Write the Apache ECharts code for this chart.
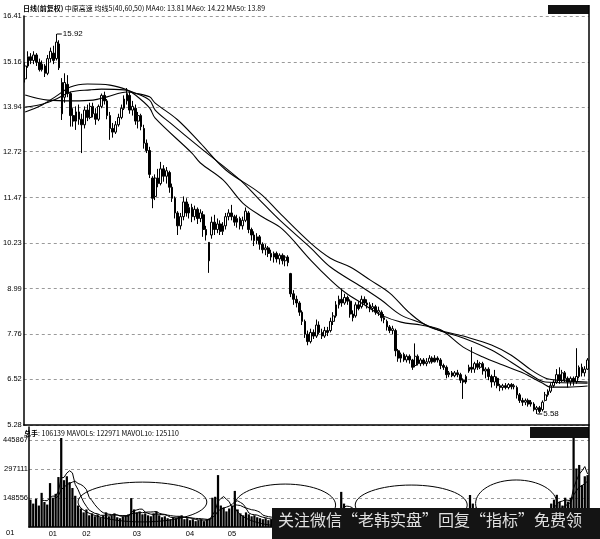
<!DOCTYPE html>
<html><head><meta charset="utf-8">
<script src="https://cdn.jsdelivr.net/npm/echarts@6/dist/echarts.min.js"></script>
<style>html,body{margin:0;padding:0;background:#fff}#c{width:600px;height:539px}</style>
</head><body><div id="c"></div>
<script>
// ---- data ----
const priceTicks = [5.28, 6.52, 7.76, 8.99, 10.23, 11.47, 12.72, 13.94, 15.16, 16.41];
const volTicks = [148556, 297111, 445867];
const monthLabels = {8:'01',20:'02',38:'03',57:'04',72:'05',91:'06',110:'07',128:'08',146:'09',163:'10',181:'11',197:'12'};

// [open, close, low, high]
const ohlc = [
[14.70,15.05,14.60,15.15],[15.05,15.30,15.00,15.45],[15.30,15.20,15.10,15.40],[15.20,15.35,15.10,15.45],[15.35,15.15,15.05,15.40],
[15.15,14.95,14.90,15.25],[14.95,15.10,14.90,15.20],[15.05,14.85,14.75,15.10],[14.85,15.25,14.80,15.35],[15.25,15.45,15.15,15.55],
[15.40,15.20,15.10,15.60],[15.25,15.70,15.20,15.92],[15.65,15.00,14.94,15.75],[14.60,13.75,13.58,14.72],[14.20,14.60,14.05,14.85],
[14.55,14.30,14.20,14.80],[14.30,13.70,13.40,14.35],[13.70,13.55,13.40,13.90],[13.55,13.80,13.31,13.95],[13.80,13.60,13.45,14.00],
[13.60,13.45,12.68,13.75],[13.45,13.85,13.35,13.95],[13.85,13.65,13.55,14.00],[13.65,13.95,13.60,14.05],[13.95,13.75,13.65,14.05],
[13.75,13.60,13.45,13.90],[13.60,13.95,13.55,14.00],[13.95,14.25,13.90,14.30],[14.25,14.10,14.00,14.35],[14.10,13.70,13.60,14.15],
[13.70,13.35,13.04,13.80],[13.35,13.25,13.10,13.50],[13.25,13.45,13.20,13.55],[13.45,13.65,13.40,13.75],[13.65,13.90,13.60,14.00],
[13.90,14.15,13.85,14.25],[14.10,14.30,14.00,14.45],[14.25,13.85,13.75,14.35],[13.85,13.95,13.70,14.10],[13.90,13.55,13.45,14.00],
[13.55,13.70,13.35,13.80],[13.70,13.40,13.30,13.75],[13.35,12.95,12.80,13.45],[12.95,12.75,12.68,13.05],[12.75,12.10,12.00,12.85],
[12.00,11.45,11.18,12.05],[11.50,12.00,11.40,12.10],[12.00,11.85,11.75,12.25],[11.85,12.25,11.80,12.44],[12.25,12.05,11.90,12.35],
[12.05,12.20,11.85,12.30],[12.15,11.75,11.60,12.20],[11.75,11.45,11.35,11.85],[11.45,11.05,10.90,11.50],[11.05,10.70,10.45,11.10],
[10.70,10.95,10.60,11.05],[10.95,11.35,10.85,11.50],[11.35,11.05,10.95,11.45],[11.05,11.20,10.90,11.30],[11.20,10.95,10.80,11.30],
[10.95,11.15,10.85,11.25],[11.15,10.90,10.75,11.20],[10.90,11.05,10.80,11.15],[11.00,10.60,10.40,11.10],[10.60,10.45,10.30,10.70],
[10.25,9.75,9.42,10.26],[10.45,10.80,10.35,10.95],[10.80,10.60,10.45,11.00],[10.60,10.75,10.50,10.90],[10.75,10.55,10.45,10.85],
[10.55,10.70,10.45,10.80],[10.70,10.95,10.60,11.05],[10.95,11.05,10.85,11.15],[11.05,10.95,10.85,11.27],[10.95,10.80,10.70,11.00],
[10.80,10.90,10.65,11.00],[10.90,10.70,10.60,10.95],[10.70,10.85,10.60,10.95],[10.85,11.10,10.80,11.20],[11.05,10.60,10.50,11.10],
[10.60,10.45,10.30,10.65],[10.45,10.30,10.15,10.55],[10.30,10.40,10.20,10.50],[10.40,10.20,10.05,10.45],[10.20,10.05,9.95,10.25],
[10.05,10.10,9.90,10.20],[10.10,9.95,9.85,10.15],[9.95,9.85,9.75,10.05],[9.85,9.95,9.70,10.00],[9.95,9.80,9.70,10.00],
[9.80,9.90,9.65,9.95],[9.90,9.75,9.65,9.95],[9.75,9.85,9.60,9.90],[9.85,9.70,9.60,9.90],[9.40,8.85,8.76,9.42],
[8.85,8.70,8.55,8.95],[8.70,8.60,8.48,8.80],[8.60,8.35,8.25,8.65],[8.35,8.10,8.00,8.40],[8.10,7.75,7.65,8.15],
[7.75,7.55,7.45,7.85],[7.55,7.80,7.50,7.90],[7.80,7.70,7.62,7.88],[7.70,8.00,7.65,8.15],[8.00,7.80,7.75,8.10],
[7.80,7.70,7.62,7.90],[7.70,7.85,7.65,7.95],[7.85,7.80,7.70,7.95],[7.85,8.10,7.80,8.20],[8.10,8.25,8.00,8.35],
[8.25,8.55,8.20,8.65],[8.55,8.70,8.45,8.80],[8.70,8.60,8.50,9.00],[8.60,8.75,8.55,8.85],[8.75,8.65,8.55,8.80],
[8.65,8.30,8.20,8.70],[8.30,8.20,8.10,8.40],[8.25,8.55,8.20,8.62],[8.55,8.45,8.40,8.65],[8.50,8.70,8.45,8.80],
[8.70,8.60,8.55,8.78],[8.60,8.55,8.45,8.70],[8.55,8.45,8.35,8.62],[8.45,8.50,8.35,8.60],[8.50,8.35,8.28,8.55],
[8.35,8.40,8.25,8.50],[8.35,8.20,8.10,8.40],[8.20,8.15,8.05,8.30],[8.10,7.95,7.85,8.15],[7.95,7.85,7.78,8.00],
[7.85,7.90,7.75,7.98],[7.85,7.30,7.15,7.90],[7.30,7.10,7.00,7.35],[7.10,7.20,6.98,7.25],[7.20,7.05,7.00,7.25],
[7.05,7.15,6.98,7.20],[7.15,7.05,6.95,7.20],[7.05,6.85,6.78,7.08],[6.90,7.15,6.85,7.50],[7.15,6.95,6.90,7.20],
[6.95,7.05,6.88,7.10],[7.05,6.95,6.90,7.10],[6.95,7.00,6.88,7.10],[7.00,7.10,6.95,7.18],[7.10,7.00,6.95,7.15],
[7.00,7.10,6.98,7.18],[7.10,7.05,6.98,7.15],[7.05,6.90,6.80,7.10],[6.90,6.85,6.78,6.95],[6.85,6.65,6.55,6.90],
[6.65,6.70,6.58,6.75],[6.70,6.62,6.58,6.75],[6.62,6.70,6.58,6.75],[6.70,6.65,6.58,6.78],[6.65,6.50,6.42,6.70],
[6.50,6.45,5.99,6.55],[6.45,6.60,6.40,6.65],[6.75,6.85,6.70,6.92],[6.85,6.80,6.70,7.40],[6.80,6.95,6.70,7.00],
[6.95,6.85,6.78,7.05],[6.85,6.95,6.80,7.00],[6.95,6.75,6.65,7.00],[6.75,6.80,6.55,6.85],[6.80,6.60,6.50,6.85],
[6.60,6.45,6.30,6.65],[6.45,6.60,6.35,6.78],[6.55,6.35,6.28,6.60],[6.35,6.30,6.20,6.40],[6.30,6.35,6.22,6.40],
[6.35,6.30,6.25,6.42],[6.30,6.38,6.25,6.42],[6.38,6.32,6.25,6.42],[6.32,6.35,6.25,6.40],[6.30,6.10,6.00,6.35],
[6.10,5.95,5.88,6.15],[5.95,5.90,5.80,6.02],[5.90,5.95,5.82,6.00],[5.95,5.85,5.78,6.00],[5.85,5.90,5.78,5.96],
[5.85,5.70,5.65,5.90],[5.70,5.75,5.58,5.80],[5.75,5.65,5.60,5.80],[5.70,5.90,5.65,5.95],[5.95,6.10,5.92,6.18],
[6.10,6.20,6.05,6.25],[6.20,6.35,6.15,6.42],[6.35,6.45,6.30,6.50],[6.45,6.65,6.40,6.80],[6.65,6.50,6.40,6.85],
[6.50,6.70,6.45,6.78],[6.70,6.55,6.45,6.75],[6.55,6.45,6.30,6.60],[6.45,6.55,6.35,6.60],[6.55,6.45,6.35,6.60],
[6.45,6.60,6.40,7.37],[6.60,6.85,6.55,6.90],[6.85,6.70,6.60,6.95],[6.70,6.80,6.60,6.88],[6.80,7.05,6.78,7.10]
];

const volumes = [
140000,120000,145000,110000,175000,128000,115000,225000,150000,170000,
256000,456000,240000,260000,230000,200000,160000,110000,95000,75000,
90000,60000,70000,55000,65000,50000,60000,75000,55000,60000,
70000,50000,45000,55000,60000,65000,148000,90000,75000,80000,
65000,70000,60000,55000,70000,80000,60000,50000,55000,45000,
40000,50000,45000,55000,60000,40000,45000,35000,40000,30000,
35000,40000,30000,40000,45000,150000,155000,266000,110000,100000,
80000,95000,110000,185000,90000,70000,60000,75000,65000,55000,
60000,50000,45000,40000,45000,35000,40000,30000,35000,40000,
30000,35000,25000,30000,70000,55000,50000,60000,65000,80000,
75000,60000,50000,55000,45000,40000,45000,50000,60000,70000,
85000,180000,120000,80000,60000,55000,50000,45000,40000,45000,
40000,35000,40000,35000,30000,35000,40000,35000,45000,40000,
35000,75000,60000,45000,40000,35000,40000,45000,60000,45000,
40000,35000,30000,35000,30000,35000,30000,40000,35000,45000,
40000,35000,30000,35000,40000,70000,60000,164000,120000,70000,
55000,50000,45000,50000,40000,45000,55000,40000,35000,30000,
35000,30000,25000,30000,40000,45000,35000,30000,35000,30000,
40000,50000,45000,60000,75000,90000,120000,140000,165000,130000,
110000,150000,130000,150000,456000,300000,318000,215000,260000,266000
];

// moving-average lines: [dayIndex, value]
const ma40 = [[0,13.80],[6,13.99],[11,14.23],[16,14.48],[22,14.56],[30,14.53],[36,14.40],[39,14.26],[44,13.91],[46,13.63],[59,12.68],[62,12.41],[70,11.95],[77,11.32],[84,10.94],[91,10.61],[101,9.77],[108,9.23],[113,8.90],[119,8.60],[126,8.27],[133,8.08],[140,8.00],[147,7.87],[155,7.40],[162,7.13],[169,6.91],[176,6.70],[183,6.42],[186,6.31],[192,6.31],[199,6.34]];
const ma50 = [[0,13.93],[6,14.01],[11,14.15],[16,14.34],[23,14.40],[27,14.42],[35,14.40],[39,14.31],[44,14.12],[46,13.85],[51,13.52],[62,12.82],[76,11.95],[83,11.40],[90,10.86],[101,10.10],[108,9.58],[119,9.04],[126,8.68],[133,8.27],[140,8.06],[147,7.84],[155,7.65],[165,7.32],[172,6.99],[179,6.64],[184,6.45],[199,6.42]];
const ma60 = [[0,14.26],[8,14.12],[17,14.10],[24,14.12],[29,14.21],[36,14.34],[39,14.31],[44,14.21],[46,14.04],[54,13.58],[62,12.95],[71,12.22],[83,11.59],[90,11.05],[101,10.23],[108,9.82],[115,9.58],[122,9.23],[129,8.87],[136,8.33],[143,7.95],[155,7.70],[165,7.46],[172,7.18],[179,6.78],[184,6.56],[188,6.50],[199,6.45]];

// hand-drawn ellipses in the volume pane: [startDay, endDay, topVolume, bottomVolume]
const ellipses = [[17,63,230000,26000],[73,109,220000,5000],[116,156,215000,10000],[159,188,241000,0]];

const priceHeader = '{b|日线(前复权)} 中原高速 均线5(40,60,50) MA40: 13.81 MA60: 14.22 MA50: 13.89';
const volHeader = '{b|总手}: 106139 MAVOL5: 122971 MAVOL10: 125110';

// ---- build ----
const days = ohlc.map((_, i) => 'D' + (i + 1));
function mavol(n) {
  return volumes.map((_, i) => {
    if (i < n - 1) return null;
    let s = 0; for (let k = i - n + 1; k <= i; k++) s += volumes[k];
    return Math.round(s / n);
  });
}
const labelFont = 'Liberation Sans';
const chart = echarts.init(document.getElementById('c'), null, {renderer: 'canvas'});
const maLine = (name, data) => ({
  name, type: 'line', xAxisIndex: 0, yAxisIndex: 0, data, smooth: 0.35,
  symbol: 'none', lineStyle: {color: '#000', width: 1.1}, z: 3, silent: true
});
const headStyle = (txt) => ({
  text: txt, fontFamily: '"Noto Sans CJK SC"', fontSize: 7, fill: '#000',
  rich: {b: {fontFamily: '"Noto Sans CJK SC"', fontSize: 7, fontWeight: 'bold', fill: '#000'}}
});
chart.setOption({
  animation: false,
  backgroundColor: '#fff',
  grid: [
    {left: 22, right: 11, top: 16, height: 409},
    {left: 22, right: 11, top: 427, height: 100}
  ],
  xAxis: [
    {type: 'category', gridIndex: 0, data: days, boundaryGap: true,
     axisLine: {show: true, onZero: false, lineStyle: {color: '#000', width: 1.5}},
     axisTick: {show: false}, axisLabel: {show: false}, splitLine: {show: false}},
    {type: 'category', gridIndex: 1, data: days, boundaryGap: true,
     axisLine: {show: true, onZero: false, lineStyle: {color: '#000', width: 1.5}},
     axisTick: {show: false},
     axisLabel: {interval: (i) => monthLabels[i] !== undefined, formatter: (v, i) => monthLabels[i] || '',
       fontSize: 7.5, fontFamily: labelFont, color: '#000', margin: 3},
     splitLine: {show: false}}
  ],
  yAxis: [
    {type: 'value', gridIndex: 0, min: 5.28, max: 16.41, position: 'left',
     axisLine: {show: true, lineStyle: {color: '#000', width: 1.5}},
     axisTick: {show: false, customValues: priceTicks},
     axisLabel: {customValues: priceTicks, formatter: (v) => v.toFixed(2), fontSize: 7.5,
       fontFamily: labelFont, color: '#000', margin: 2},
     splitLine: {show: true, lineStyle: {color: '#9a9a9a', type: [3, 3], width: 1}}},
    {type: 'value', gridIndex: 1, min: 0, max: 512500, position: 'left',
     axisLine: {show: true, lineStyle: {color: '#000', width: 1.5}},
     axisTick: {show: false, customValues: volTicks},
     axisLabel: {customValues: volTicks, formatter: (v) => String(Math.round(v)), fontSize: 7.5,
       fontFamily: labelFont, color: '#000', margin: 1},
     splitLine: {show: true, lineStyle: {color: '#9a9a9a', type: [3, 3], width: 1}}}
  ],
  series: [
    {name: 'K', type: 'candlestick', xAxisIndex: 0, yAxisIndex: 0, data: ohlc, barWidth: '78%',
     itemStyle: {color: '#fff', color0: '#000', borderColor: '#000', borderColor0: '#000', borderWidth: 1},
     markPoint: {
       symbol: 'rect', symbolSize: [5, 1], symbolOffset: [3, 0], itemStyle: {color: '#000'},
       label: {show: true, position: 'right', distance: 1, color: '#000', fontSize: 8, fontFamily: labelFont},
       data: [
         {coord: [11, 15.92], value: 15.92, label: {formatter: '15.92'}},
         {coord: [181, 5.58], value: 5.58, label: {formatter: '5.58'}}
       ]
     }},
    maLine('MA40', ma40), maLine('MA50', ma50), maLine('MA60', ma60),
    {name: 'VOL', type: 'bar', xAxisIndex: 1, yAxisIndex: 1, data: volumes, barWidth: '80%',
     itemStyle: {color: '#000'}},
    {name: 'MAVOL5', type: 'line', xAxisIndex: 1, yAxisIndex: 1, data: mavol(5), symbol: 'none',
     lineStyle: {color: '#000', width: 1}, z: 3},
    {name: 'MAVOL10', type: 'line', xAxisIndex: 1, yAxisIndex: 1, data: mavol(10), symbol: 'none',
     lineStyle: {color: '#000', width: 1}, z: 3},
    {name: 'ellipse', type: 'custom', xAxisIndex: 1, yAxisIndex: 1, data: ellipses, z: 4, clip: true,
     encode: {x: [0, 1], y: [2, 3]},
     renderItem: (params, api) => {
       const p1 = api.coord([api.value(0), api.value(2)]);
       const p2 = api.coord([api.value(1), api.value(3)]);
       return {type: 'ellipse',
         shape: {cx: (p1[0] + p2[0]) / 2, cy: (p1[1] + p2[1]) / 2,
                 rx: Math.abs(p2[0] - p1[0]) / 2, ry: Math.abs(p2[1] - p1[1]) / 2},
         style: {fill: 'none', stroke: '#000', lineWidth: 1}};
     }}
  ],
  graphic: [
    {type: 'text', left: 23, top: 5, z: 50, style: headStyle(priceHeader)},
    {type: 'text', left: 24, top: 430, z: 50, style: headStyle(volHeader)},
    {type: 'text', left: 6, top: 529, z: 50, style: {text: '01', font: '7.5px "Liberation Sans"', fill: '#000'}},
    {type: 'rect', left: 548, top: 5, z: 50, shape: {width: 41, height: 9}, style: {fill: '#111'}},
    {type: 'rect', left: 530, top: 427, z: 50, shape: {width: 59, height: 11}, style: {fill: '#111'}},
    {type: 'line', z: 50, shape: {x1: 589, y1: 5, x2: 589, y2: 527}, style: {stroke: '#000', lineWidth: 1.5}},
    {type: 'rect', left: 272, top: 508, z: 100, shape: {width: 328, height: 31}, style: {fill: '#141414'}},
    {type: 'text', left: 278, top: 512, z: 101, style: {text: '关注微信“老韩实盘”回复“指标”免费领', font: '16px "Noto Sans CJK SC"', fill: '#e0e0e0'}}
  ]
});
</script></body></html>
